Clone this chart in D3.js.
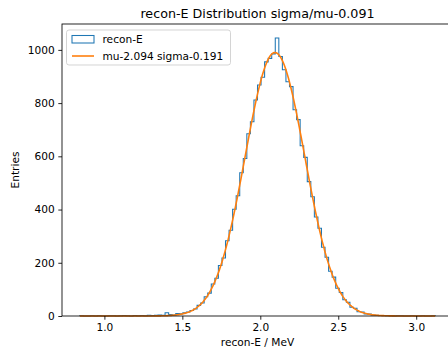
<!DOCTYPE html>
<html>
<head>
<meta charset="utf-8">
<script src="https://cdn.jsdelivr.net/npm/d3@7"></script>
<style>
  html, body { margin: 0; padding: 0; background: #fff; }
  svg { display: block; font-family: "DejaVu Sans", sans-serif; }
</style>
</head>
<body>
<svg id="chart" width="448" height="349"></svg>
<script>
// ---- data ----
const binStart = 0.842;
const binEnd = 3.122;
const counts = [
  1,0,0,1,0,1,0,0,1,1, 0,1,2,1,0,2,1,2,1,3,
  2,3,4,3,12,6,4,9,8,12, 15,21,26,40,49,72,86,120,142,190,
  218,283,322,401,452,538,592,685,730,812, 868,897,955,968,985,1045,975,925,880,862,
  775,738,640,596,505,448,372,330,258,221, 168,146,104,88,61,52,33,29,16,15,
  8,7,4,3,2,2,1,1,0,1, 1,0,0,1,0,0,1,0,0,1
];
const fitMu = 2.094;
const fitSigma = 0.191;
const fitAmp = 990;
const xTicks = [1.0, 1.5, 2.0, 2.5, 3.0];
const yTicks = [0, 200, 400, 600, 800, 1000];
const titleText = "recon-E Distribution sigma/mu-0.091";
const xLabel = "recon-E / MeV";
const yLabel = "Entries";
const legendLabels = ["recon-E", "mu-2.094 sigma-0.191"];

// ---- layout ----
const svg = d3.select("#chart");
const L = 62, R = 453, T = 24, B = 316;
const blue = "#1f77b4", orange = "#ff7f0e";
const fs = 10.6;

const nb = counts.length;
const bw = (binEnd - binStart) / nb;
const edges = d3.range(nb + 1).map(i => binStart + i * bw);
const pad = (binEnd - binStart) * 0.05;
const x = d3.scaleLinear().domain([binStart - pad, binEnd + pad]).range([L, R]);
const y = d3.scaleLinear().domain([0, d3.max(counts) * 1.05]).range([B, T]);

// histogram step path
const stepPts = [[edges[0], 0]];
counts.forEach((c, i) => { stepPts.push([edges[i], c]); stepPts.push([edges[i + 1], c]); });
stepPts.push([edges[nb], 0]);
svg.append("path")
  .attr("d", d3.line().x(d => x(d[0])).y(d => y(d[1]))(stepPts))
  .attr("fill", "none").attr("stroke", blue).attr("stroke-width", 1.05)
  .attr("stroke-linejoin", "miter");

// fit curve
const fitX = d3.range(0, 401).map(i => binStart + i * (binEnd - binStart) / 400);
const fitPts = fitX.map(v => [v, fitAmp * Math.exp(-((v - fitMu) ** 2) / (2 * fitSigma ** 2))]);
svg.append("path")
  .attr("d", d3.line().x(d => x(d[0])).y(d => y(d[1]))(fitPts))
  .attr("fill", "none").attr("stroke", orange).attr("stroke-width", 1.6);

// axes
const xAxis = svg.append("g").attr("transform", `translate(0,${B})`)
  .call(d3.axisBottom(x).tickValues(xTicks).tickFormat(d3.format(".1f")).tickSizeOuter(0).tickSize(3.7).tickPadding(3.5));
const yAxis = svg.append("g").attr("transform", `translate(${L},0)`)
  .call(d3.axisLeft(y).tickValues(yTicks).tickFormat(d3.format("d")).tickSizeOuter(0).tickSize(3.7).tickPadding(3.5));
[xAxis, yAxis].forEach(g => {
  g.select(".domain").remove();
  g.selectAll("line").attr("stroke", "#000").attr("stroke-width", 0.85);
  g.selectAll("text").attr("font-size", fs).attr("fill", "#000").attr("font-family", "DejaVu Sans, sans-serif");
});

// spines
svg.append("rect").attr("x", L).attr("y", T).attr("width", R - L).attr("height", B - T)
  .attr("fill", "none").attr("stroke", "#000").attr("stroke-width", 0.85);

// title & labels
svg.append("text").attr("x", (L + R) / 2).attr("y", T - 6).attr("text-anchor", "middle")
  .attr("font-size", 12.7).attr("fill", "#000").text(titleText);
svg.append("text").attr("x", (L + R) / 2).attr("y", 346).attr("text-anchor", "middle")
  .attr("font-size", fs).attr("fill", "#000").text(xLabel);
svg.append("text").attr("transform", `translate(19,${(T + B) / 2}) rotate(-90)`).attr("text-anchor", "middle")
  .attr("font-size", fs).attr("fill", "#000").text(yLabel);

// legend
const lg = svg.append("g");
lg.append("rect").attr("x", 66.5).attr("y", 30).attr("width", 164).attr("height", 35).attr("rx", 2.5)
  .attr("fill", "#fff").attr("fill-opacity", 0.8).attr("stroke", "#cccccc").attr("stroke-width", 0.85);
lg.append("rect").attr("x", 72).attr("y", 35.5).attr("width", 22).attr("height", 7.5)
  .attr("fill", "none").attr("stroke", blue).attr("stroke-width", 1.05);
lg.append("line").attr("x1", 72).attr("x2", 94).attr("y1", 56).attr("y2", 56)
  .attr("stroke", orange).attr("stroke-width", 1.6);
lg.append("text").attr("x", 102.5).attr("y", 43).attr("font-size", fs).attr("fill", "#000").text(legendLabels[0]);
lg.append("text").attr("x", 102.5).attr("y", 60).attr("font-size", fs).attr("fill", "#000").text(legendLabels[1]);
</script>
</body>
</html>
